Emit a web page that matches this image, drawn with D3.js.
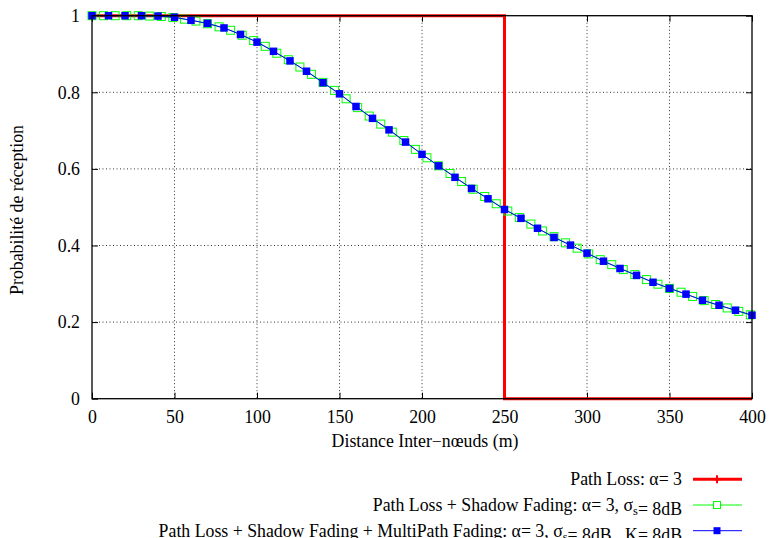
<!DOCTYPE html>
<html>
<head>
<meta charset="utf-8">
<script src="https://cdn.jsdelivr.net/npm/d3@7"></script>
<style>
  html, body { margin: 0; padding: 0; background: #fff; }
  svg { display: block; font-family: "Liberation Serif", "DejaVu Serif", serif; }
</style>
</head>
<body>
<svg id="chart" width="769" height="538"></svg>
<script>
// ---- Data ----
const xTicks = [0, 50, 100, 150, 200, 250, 300, 350, 400];
const yTicks = [0, 0.2, 0.4, 0.6, 0.8, 1];

// Path Loss (step at 250 m)
const pathLossDist = [0, 250, 400];
const pathLossProb = [1, 0, 0];

// Path Loss + Shadow Fading (sampled every 7 m)
const shadowDist = [0, 7, 14, 21, 28, 35, 42, 49, 56, 63, 70, 77, 84, 91, 98, 105, 112, 119, 126, 133,
  140, 147, 154, 161, 168, 175, 182, 189, 196, 203, 210, 217, 224, 231, 238, 245, 252, 259, 266, 273,
  280, 287, 294, 301, 308, 315, 322, 329, 336, 343, 350, 357, 364, 371, 378, 385, 392, 399];
const shadowProb = [1.0, 1.0, 1.0, 1.0, 1.0, 0.999, 0.998, 0.995, 0.991, 0.986, 0.979, 0.971, 0.962, 0.949,
  0.935, 0.920, 0.902, 0.885, 0.866, 0.847, 0.826, 0.805, 0.783, 0.760, 0.738, 0.717, 0.696, 0.674,
  0.651, 0.629, 0.608, 0.588, 0.567, 0.547, 0.528, 0.509, 0.490, 0.473, 0.456, 0.438, 0.423, 0.407,
  0.393, 0.378, 0.363, 0.350, 0.337, 0.324, 0.311, 0.299, 0.288, 0.278, 0.267, 0.256, 0.246, 0.237,
  0.228, 0.219];

// Path Loss + Shadow Fading + MultiPath Fading (sampled every 10 m)
const multiDist = [0, 10, 20, 30, 40, 50, 60, 70, 80, 90, 100, 110, 120, 130, 140, 150, 160, 170, 180, 190,
  200, 210, 220, 230, 240, 250, 260, 270, 280, 290, 300, 310, 320, 330, 340, 350, 360, 370, 380, 390, 400];
const multiProb = [1.0, 1.0, 1.0, 1.0, 0.999, 0.996, 0.988, 0.980, 0.968, 0.951, 0.931, 0.907, 0.882, 0.855,
  0.825, 0.796, 0.763, 0.732, 0.702, 0.670, 0.638, 0.608, 0.578, 0.549, 0.522, 0.494, 0.471, 0.445,
  0.421, 0.401, 0.380, 0.359, 0.340, 0.322, 0.304, 0.288, 0.273, 0.257, 0.244, 0.231, 0.218];

const xLabel = "Distance Inter\u2212n\u0153uds (m)";
const yLabel = "Probabilit\u00e9 de r\u00e9ception";

// ---- Layout ----
const svg = d3.select("#chart");
const L = 92, R = 752, T = 15.7, B = 398.7;
const x = d3.scaleLinear().domain([0, 400]).range([L, R]);
const y = d3.scaleLinear().domain([0, 1]).range([B, T]);
const FS = 17.8;
const FONT = "'Liberation Serif', 'Times New Roman', serif";

const g = svg.append("g");

// grid
g.selectAll(".vg").data(xTicks.slice(1, -1)).enter().append("line")
  .attr("x1", d => x(d)).attr("x2", d => x(d)).attr("y1", T).attr("y2", B)
  .attr("stroke", "#333").attr("stroke-width", 1).attr("stroke-dasharray", "1,2.5");
g.selectAll(".hg").data(yTicks.slice(1, -1)).enter().append("line")
  .attr("x1", L).attr("x2", R).attr("y1", d => y(d)).attr("y2", d => y(d))
  .attr("stroke", "#333").attr("stroke-width", 1).attr("stroke-dasharray", "1,2.5");

// axes (inward ticks on all sides)
const tk = 6;
const ax = svg.append("g");
ax.append("g").attr("transform", `translate(0,${B})`)
  .call(d3.axisBottom(x).tickValues(xTicks).tickSize(-tk).tickPadding(12).tickFormat(d3.format("d")))
  .call(s => s.select(".domain").remove());
ax.append("g").attr("transform", `translate(0,${T})`)
  .call(d3.axisTop(x).tickValues(xTicks).tickSize(-tk).tickFormat(""))
  .call(s => s.select(".domain").remove());
ax.append("g").attr("transform", `translate(${L},0)`)
  .call(d3.axisLeft(y).tickValues(yTicks).tickSize(-tk).tickPadding(12).tickFormat(d => d === 0 || d === 1 ? d3.format("d")(d) : d3.format(".1f")(d)))
  .call(s => s.select(".domain").remove());
ax.append("g").attr("transform", `translate(${R},0)`)
  .call(d3.axisRight(y).tickValues(yTicks).tickSize(-tk).tickFormat(""))
  .call(s => s.select(".domain").remove());
ax.selectAll("g").attr("font-family", FONT).attr("font-size", FS);
ax.selectAll(".tick line").attr("stroke", "#000");
ax.selectAll(".tick text").attr("fill", "#000");

// series
const redData = pathLossDist.map((d, i) => [d, pathLossProb[i]]);
const greenData = shadowDist.map((d, i) => [d, shadowProb[i]]);
const blueData = multiDist.map((d, i) => [d, multiProb[i]]);

const stepLine = d3.line().x(d => x(d[0])).y(d => y(d[1])).curve(d3.curveStepAfter);
const line = d3.line().x(d => x(d[0])).y(d => y(d[1]));

svg.append("path").datum(redData).attr("d", stepLine)
  .attr("fill", "none").attr("stroke", "#ff0000").attr("stroke-width", 3);

svg.append("path").datum(greenData).attr("d", line)
  .attr("fill", "none").attr("stroke", "#00ff00").attr("stroke-width", 1);
const gs = 8;
svg.selectAll(".gm").data(greenData).enter().append("rect")
  .attr("x", d => x(d[0]) - gs / 2).attr("y", d => y(d[1]) - gs / 2)
  .attr("width", gs).attr("height", gs)
  .attr("fill", "none").attr("stroke", "#00ff00").attr("stroke-width", 1);

svg.append("path").datum(blueData).attr("d", line)
  .attr("fill", "none").attr("stroke", "#0000ff").attr("stroke-width", 1);
const bs = 7.5;
svg.selectAll(".bm").data(blueData).enter().append("rect")
  .attr("x", d => x(d[0]) - bs / 2).attr("y", d => y(d[1]) - bs / 2)
  .attr("width", bs).attr("height", bs)
  .attr("fill", "#0000ff");

// border on top
svg.append("rect").attr("x", L).attr("y", T).attr("width", R - L).attr("height", B - T)
  .attr("fill", "none").attr("stroke", "#000").attr("stroke-width", 1.3);

// axis labels
svg.append("text").attr("x", (L + R) / 2 + 3).attr("y", 447).attr("text-anchor", "middle")
  .attr("font-family", FONT).attr("font-size", FS).text(xLabel);
svg.append("text").attr("transform", `translate(23,${210}) rotate(-90)`)
  .attr("text-anchor", "middle").attr("font-family", FONT).attr("font-size", FS).text(yLabel);

// legend
const legX1 = 693, legX2 = 742, legMid = 717, textRight = 682;
const rows = [479.3, 505, 530.7];
const leg = svg.append("g").attr("font-family", FONT);

function legText(yy, parts) {
  const t = leg.append("text").attr("x", textRight).attr("y", yy + 5.8)
    .attr("text-anchor", "end").attr("font-size", FS);
  parts.forEach(p => {
    if (p.sub) {
      t.append("tspan").attr("dy", 4).attr("font-size", FS * 0.7).text(p.t);
      t.append("tspan").attr("dy", -4).text("");
    } else {
      t.append("tspan").text(p.t);
    }
  });
}

legText(rows[0], [{t: "Path Loss: \u03b1= 3"}]);
legText(rows[1], [{t: "Path Loss + Shadow Fading: \u03b1= 3, \u03c3"}, {t: "s", sub: true}, {t: "= 8dB"}]);
legText(rows[2], [{t: "Path Loss + Shadow Fading + MultiPath Fading: \u03b1= 3, \u03c3"}, {t: "s", sub: true}, {t: "= 8dB,\u00a0 K= 8dB"}]);

leg.append("line").attr("x1", legX1).attr("x2", legX2).attr("y1", rows[0]).attr("y2", rows[0])
  .attr("stroke", "#ff0000").attr("stroke-width", 3);
leg.append("path").attr("d", `M${legMid - 4},${rows[0]}H${legMid + 4}M${legMid},${rows[0] - 4}V${rows[0] + 4}`)
  .attr("stroke", "#ff0000").attr("stroke-width", 2);

leg.append("line").attr("x1", legX1).attr("x2", legX2).attr("y1", rows[1]).attr("y2", rows[1])
  .attr("stroke", "#00ff00").attr("stroke-width", 1);
leg.append("rect").attr("x", legMid - 3.5).attr("y", rows[1] - 3.5).attr("width", 7).attr("height", 7)
  .attr("fill", "#fff").attr("stroke", "#00ff00").attr("stroke-width", 1);

leg.append("line").attr("x1", legX1).attr("x2", legX2).attr("y1", rows[2]).attr("y2", rows[2])
  .attr("stroke", "#0000ff").attr("stroke-width", 1);
leg.append("rect").attr("x", legMid - 3.5).attr("y", rows[2] - 3.5).attr("width", 7).attr("height", 7)
  .attr("fill", "#0000ff");
</script>
</body>
</html>
